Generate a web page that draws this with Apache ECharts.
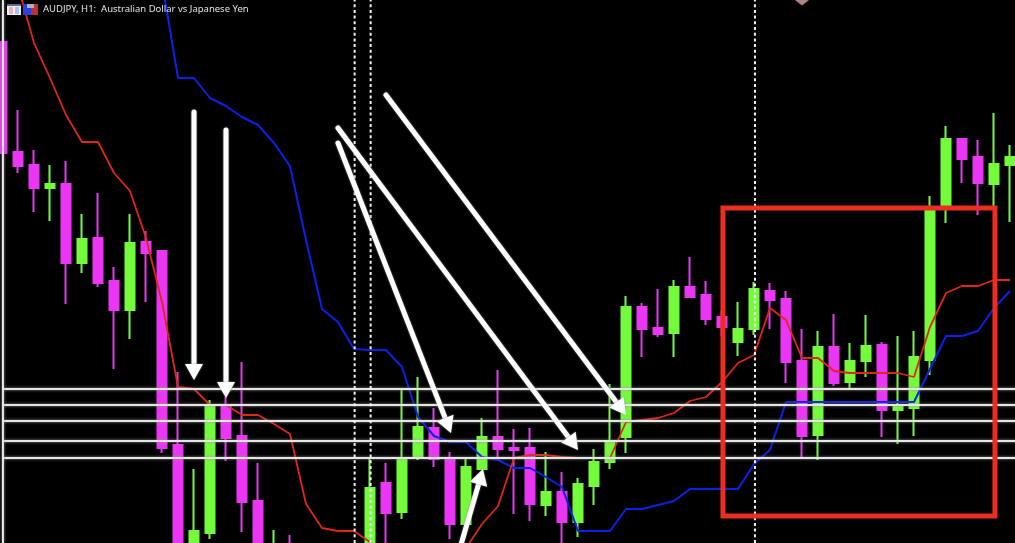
<!DOCTYPE html>
<html>
<head>
<meta charset="utf-8">
<style>html,body{margin:0;padding:0;background:#000;overflow:hidden}#c{width:1015px;height:543px}</style>
<script src="https://cdn.jsdelivr.net/npm/echarts@6/dist/echarts.min.js"></script>
</head>
<body>
<div id="c"></div>
<script>
// All levels are points above the lower edge of the visible price window.
const title = 'AUDJPY, H1:  Australian Dollar vs Japanese Yen';
const opens = [501,391,378,355,359,280,305,262,233,301,292,98,-57,10,138,107,42,-57,-17,-97,-82,-42,-37,-47,60,31,85,115,84,19,74,106,95,95,38,51,21,57,81,106,236,215,210,256,248,226,201,214,252,244,182,108,196,161,182,198,133,135,183,334,404,386,359,378];
const closes = [390,377,355,359,280,304,260,233,300,290,95,-32,12,138,105,41,-27,-17,-77,-57,-47,-77,-67,55,30,84,116,84,19,76,106,94,93,39,51,21,59,81,101,236,214,209,256,246,224,216,214,254,243,181,107,196,160,182,197,133,136,186,336,404,384,360,379,386];
const lows = [390,370,331,322,239,270,256,174,204,241,90,-47,-72,4,82,11,-47,-77,-97,-107,-97,-92,-87,-57,-17,24,83,76,4,13,74,86,29,22,27,-7,6,38,74,90,186,206,186,246,218,207,187,208,214,160,85,83,157,155,166,106,99,107,168,320,360,328,336,321];
const highs = [501,433,393,378,382,329,350,276,329,312,292,171,74,143,146,181,80,13,8,-37,-32,-27,-17,86,80,153,166,135,91,85,125,173,114,115,91,71,65,94,159,247,240,254,263,286,262,232,241,261,260,252,214,212,229,200,228,201,207,212,347,417,404,403,430,398];
const redLine = [603,557,500,465,428,401,401,370,352,305,241,156,154,138,138,128,128,119,109,39,15,12,12,1,-12,-22,-27,-25,-17,-5,19,37,85,88,88,86,85,85,85,121,123,125,130,142,146,161,180,188,235,223,185,185,172,170,170,170,170,166,216,250,257,257,263,263];
const blueLine = [null,null,null,null,null,null,null,null,null,603,561,465,465,445,437,426,418,400,377,303,234,221,194,193,193,176,126,107,101,101,86,83,75,75,66,56,12,12,12,34,34,38,42,54,54,54,54,79,93,141,141,141,141,141,141,141,141,141,174,207,207,212,235,252];
const levels = [154,138,122,102,85];
const dashedBars = [22.04,23.04,47.06];
const boxBars = [45.06,62.06];
const boxLevels = [27,335];
const arrowFromBar = [12,14,21,21,24,28.5];
const arrowFromLevel = [431,413,400,415,448,-12];
const arrowToBar = [12,14,28.06,36,39,30.06];
const arrowToLevel = [163,145,110,93,128,74];
const markerBar = [50];
const markerLevel = [543];
const leftEdgeBar = 0.06;
const lastBarEdge = 63.5;

const categories = opens.map((_, i) => 'H' + (i + 1));
const candles = opens.map((o, i) => [o, closes[i], lows[i], highs[i]]);
const GREEN = '#74fb3d', MAGENTA = '#ea37f3', WHITE = '#e6e6e6';

function overlay(name, data, style, extra) {
  return Object.assign({
    name, type: 'line', xAxisIndex: 1, yAxisIndex: 0, data, symbol: 'none',
    lineStyle: style, silent: true, z: 4, animation: false
  }, extra || {});
}

const series = [
  { type: 'candlestick', data: candles, xAxisIndex: 0, yAxisIndex: 0, barWidth: 10, z: 1,
    itemStyle: { color: GREEN, color0: MAGENTA, borderColor: GREEN, borderColor0: MAGENTA, borderWidth: 2 } },
  { type: 'line', name: 'slow', data: blueLine, xAxisIndex: 0, yAxisIndex: 0, symbol: 'none', z: 2,
    lineStyle: { color: '#0a22e6', width: 2 } },
  { type: 'line', name: 'fast', data: redLine, xAxisIndex: 0, yAxisIndex: 0, symbol: 'none', z: 2,
    lineStyle: { color: '#e0261a', width: 1.8 } }
];
levels.forEach((v, i) => series.push(overlay('level' + i,
  [[leftEdgeBar, v], [lastBarEdge, v]],
  { color: WHITE, width: 2, shadowColor: '#9a9a9a', shadowBlur: 3 }, { z: 3 })));
series.push(overlay('edge', [[leftEdgeBar, 0], [leftEdgeBar, 543]],
  { color: WHITE, width: 2, shadowColor: '#9a9a9a', shadowBlur: 3 }, { z: 3 }));
dashedBars.forEach((b, i) => series.push(overlay('session' + i, [[b, 0], [b, 543]],
  { color: '#f2f2f2', width: 2, type: [3, 2.7] })));
series.push(overlay('box', [
  [boxBars[0], boxLevels[1]], [boxBars[1], boxLevels[1]],
  [boxBars[1], boxLevels[0]], [boxBars[0], boxLevels[0]], [boxBars[0], boxLevels[1]]
], { color: '#ec2d20', width: 5, join: 'miter', cap: 'square' }));
series.push({
  type: 'scatter', xAxisIndex: 1, yAxisIndex: 0, symbol: 'diamond', symbolSize: [14, 11], z: 4,
  data: markerBar.map((b, i) => [b, markerLevel[i]]),
  itemStyle: { color: '#d9a5a5' }, silent: true
});
series.push({
  type: 'custom', xAxisIndex: 1, yAxisIndex: 0, z: 5, silent: true, clip: false,
  data: arrowFromBar.map((b, i) => [b, arrowFromLevel[i], arrowToBar[i], arrowToLevel[i]]),
  encode: { x: [0, 2], y: [1, 3] },
  renderItem(params, api) {
    const a = api.coord([api.value(0), api.value(1)]);
    const t = api.coord([api.value(2), api.value(3)]);
    const dx = t[0] - a[0], dy = t[1] - a[1], len = Math.hypot(dx, dy);
    const ux = dx / len, uy = dy / len, headL = 16, headW = 9;
    const bx = t[0] - ux * headL, by = t[1] - uy * headL;
    const shadow = { shadowColor: '#888', shadowBlur: 2 };
    return { type: 'group', children: [
      { type: 'line', shape: { x1: a[0], y1: a[1], x2: bx + ux * 2, y2: by + uy * 2 },
        style: Object.assign({ stroke: '#fff', lineWidth: 5, lineCap: 'round' }, shadow) },
      { type: 'polygon', shape: { points: [[t[0], t[1]],
          [bx - uy * headW, by + ux * headW], [bx + uy * headW, by - ux * headW]] },
        style: Object.assign({ fill: '#fff' }, shadow) }
    ] };
  }
});

const chart = echarts.init(document.getElementById('c'), null, { renderer: 'canvas' });
chart.setOption({
  animation: false,
  backgroundColor: '#000',
  grid: { left: -6, top: 0, width: 1024, height: 543, containLabel: false, outerBoundsMode: 'none' },
  tooltip: { show: false },
  xAxis: [
    { type: 'category', data: categories, show: false, boundaryGap: true },
    { type: 'value', min: -0.5, max: 63.5, show: false }
  ],
  yAxis: [{ type: 'value', min: 0, max: 543, show: false, scale: true }],
  series,
  graphic: [
    { type: 'rect', z: 20, shape: { x: 7, y: 4, width: 14, height: 11 }, style: { fill: '#f0f0f4' } },
    { type: 'rect', z: 21, shape: { x: 7, y: 4, width: 14, height: 2 }, style: { fill: '#5a6a90' } },
    { type: 'rect', z: 21, shape: { x: 9, y: 7, width: 4, height: 7 }, style: { fill: '#eeb0b8' } },
    { type: 'rect', z: 21, shape: { x: 15, y: 7, width: 4, height: 7 }, style: { fill: '#b0c0ee' } },
    { type: 'rect', z: 20, shape: { x: 23, y: 4, width: 8, height: 11 }, style: { fill: '#2a3fe0' } },
    { type: 'rect', z: 20, shape: { x: 31, y: 4, width: 7, height: 11 }, style: { fill: '#c03030' } },
    { type: 'rect', z: 21, shape: { x: 27, y: 4, width: 7, height: 4 }, style: { fill: '#b0b0b0' } },
    { type: 'text', z: 22, x: 43, y: 4, style: { text: title, fill: '#e4e4e4', font: '9.5px "Noto Sans"' } }
  ]
});
</script>
</body>
</html>
